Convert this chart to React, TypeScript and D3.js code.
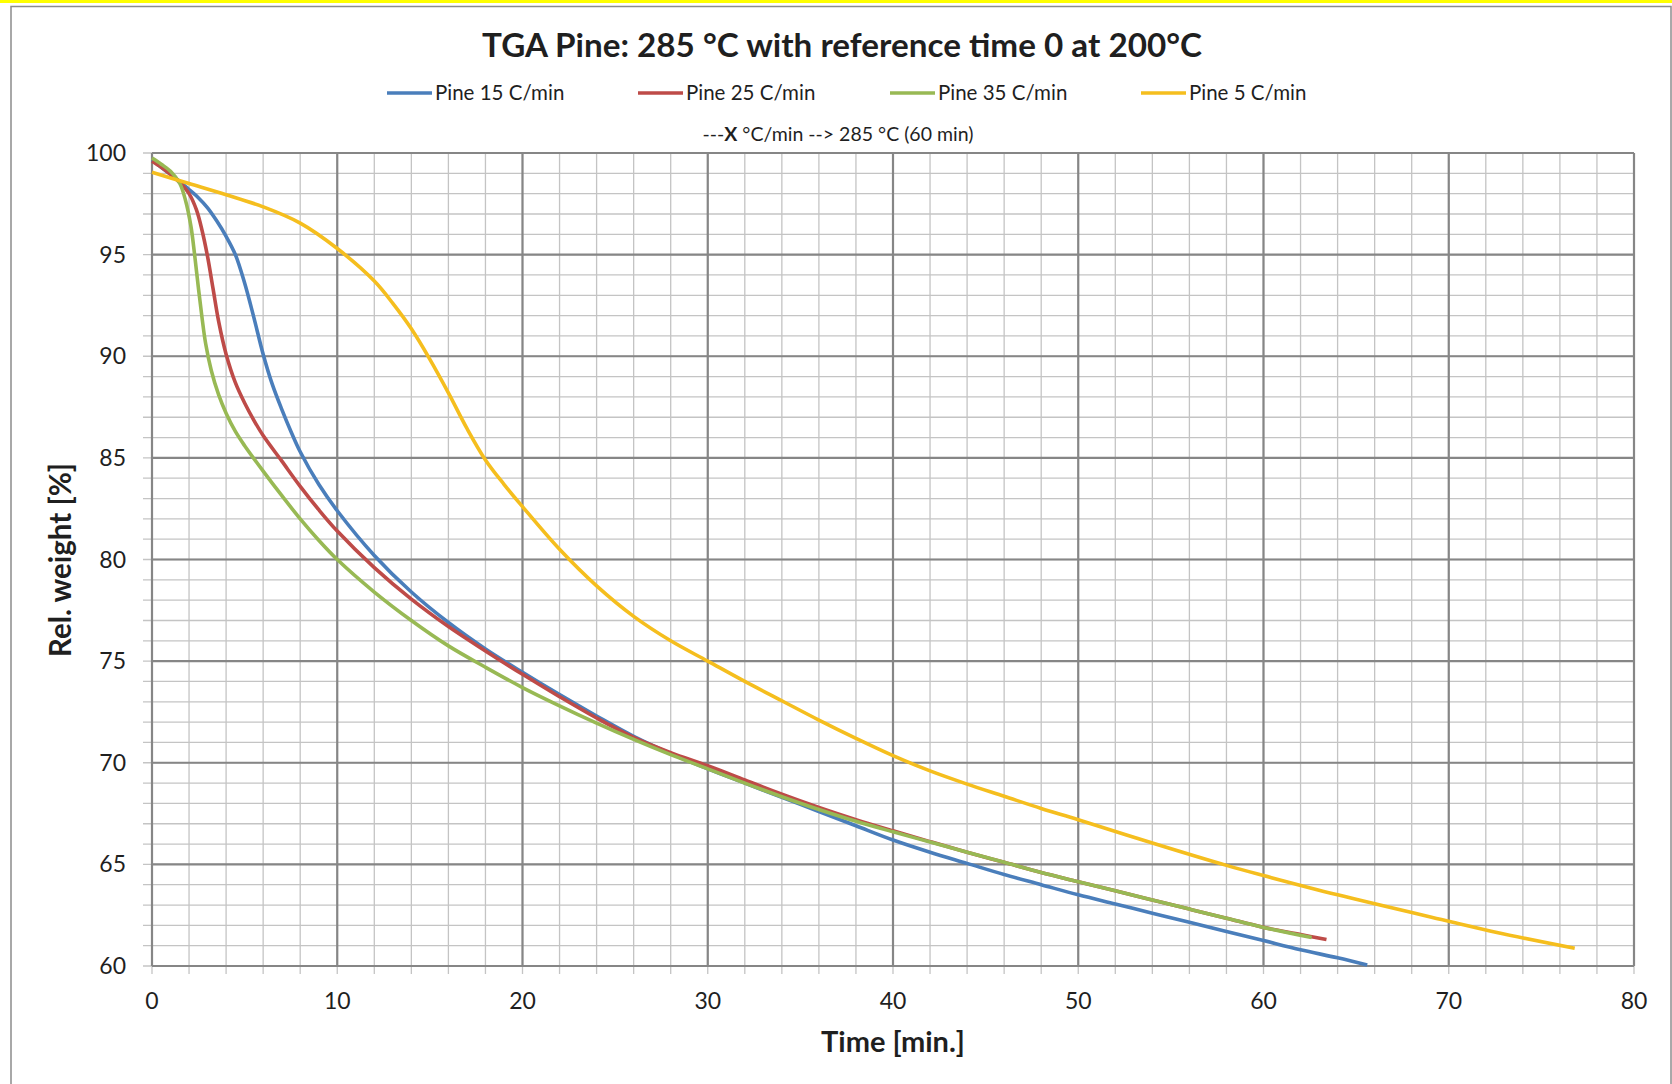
import React from 'react';
import * as d3 from 'd3';

// ── Data (time [min], relative weight [%]) ──────────────────────────────────
const seriesNames = ['Pine 15 C/min', 'Pine 25 C/min', 'Pine 35 C/min', 'Pine 5 C/min'];
const seriesColors = ['#4A7EBB', '#BE4B48', '#98B954', '#F5BE1E'];

const t15 = [0, 0.5, 1, 1.5, 2, 2.5, 3, 3.5, 4, 4.5, 5, 5.5, 6, 6.5, 7, 7.5, 8, 9, 10, 12, 14, 16, 18, 20, 22, 24, 26, 28, 30, 32, 34, 36, 38, 40, 42, 44, 46, 48, 50, 52, 54, 56, 58, 60, 62, 64, 65.6];
const w15 = [99.65, 99.3, 98.95, 98.6, 98.2, 97.8, 97.3, 96.65, 95.9, 95.0, 93.6, 91.9, 90.1, 88.6, 87.4, 86.3, 85.3, 83.7, 82.4, 80.2, 78.4, 76.9, 75.6, 74.45, 73.35, 72.3, 71.3, 70.45, 69.7, 69.0, 68.3, 67.6, 66.9, 66.2, 65.6, 65.05, 64.5, 64.0, 63.5, 63.05, 62.6, 62.15, 61.7, 61.25, 60.8, 60.4, 60.05];

const t25 = [0, 0.5, 1, 1.5, 2, 2.4, 2.7, 3, 3.3, 3.6, 4, 4.5, 5, 5.5, 6, 7, 8, 9, 10, 12, 14, 16, 18, 20, 22, 24, 26, 28, 30, 32, 34, 36, 38, 40, 42, 44, 46, 48, 50, 52, 54, 56, 58, 60, 62, 63.4];
const w25 = [99.6, 99.3, 98.95, 98.55, 98.0, 97.2, 96.2, 94.9, 93.3, 91.7, 90.1, 88.7, 87.7, 86.85, 86.1, 84.85, 83.6, 82.45, 81.4, 79.6, 78.05, 76.7, 75.5, 74.35, 73.25, 72.2, 71.25, 70.5, 69.85, 69.15, 68.45, 67.8, 67.2, 66.65, 66.12, 65.6, 65.1, 64.6, 64.15, 63.7, 63.25, 62.8, 62.35, 61.9, 61.55, 61.3];

const t35 = [0, 0.5, 1, 1.5, 1.8, 2.1, 2.3, 2.5, 2.7, 2.9, 3.2, 3.6, 4, 4.5, 5, 6, 7, 8, 9, 10, 12, 14, 16, 18, 20, 22, 24, 26, 28, 30, 32, 34, 36, 38, 40, 42, 44, 46, 48, 50, 52, 54, 56, 58, 60, 62.6];
const w35 = [99.75, 99.45, 99.1, 98.5, 97.7, 96.4, 95.0, 93.4, 91.9, 90.6, 89.3, 88.1, 87.2, 86.3, 85.6, 84.35, 83.15, 82.0, 80.95, 80.0, 78.4, 77.0, 75.75, 74.7, 73.7, 72.8, 71.95, 71.15, 70.4, 69.7, 69.0, 68.33, 67.7, 67.12, 66.6, 66.1, 65.6, 65.1, 64.6, 64.15, 63.7, 63.25, 62.8, 62.35, 61.9, 61.4];

const t5 = [0, 2, 4, 6, 8, 10, 12, 13, 14, 15, 16, 17, 18, 19, 20, 22, 24, 26, 28, 30, 32, 34, 36, 38, 40, 42, 44, 46, 48, 50, 54, 58, 60, 64, 70, 72.6, 76.8];
const w5 = [99.05, 98.5, 97.95, 97.35, 96.55, 95.3, 93.7, 92.6, 91.35, 89.85, 88.2, 86.45, 84.9, 83.7, 82.6, 80.5, 78.7, 77.2, 76.0, 75.0, 74.0, 73.05, 72.1, 71.2, 70.35, 69.6, 68.95, 68.35, 67.75, 67.2, 66.05, 64.95, 64.45, 63.5, 62.2, 61.65, 60.87];

const seriesTimes = [t15, t25, t35, t5];
const seriesWeights = [w15, w25, w35, w5];

const xTickValues = [0, 10, 20, 30, 40, 50, 60, 70, 80];
const yTickValues = [60, 65, 70, 75, 80, 85, 90, 95, 100];

// ── Layout ────────────────────────────────────────────────────────────────────
const W = 1672;
const H = 1084;
const PLOT = { left: 152, right: 1634, top: 153, bottom: 966 };
const FONT = "Lato, 'Open Sans', sans-serif";
const TEXT = '#1f1f1f';

export default function App() {
  const x = d3.scaleLinear().domain([0, 80]).range([PLOT.left, PLOT.right]);
  const y = d3.scaleLinear().domain([60, 100]).range([PLOT.bottom, PLOT.top]);

  const line = d3
    .line<[number, number]>()
    .x((d) => x(d[0]))
    .y((d) => y(d[1]))
    .curve(d3.curveCatmullRom.alpha(0.5));

  const minorX = d3.range(0, 81, 2);
  const minorY = d3.range(60, 101, 1);

  // legend items: line start x
  const legendX = [387, 638, 890, 1141];

  return (
    <svg
      width={W}
      height={H}
      style={{ position: 'absolute', left: 0, top: 0, background: '#fff' }}
      fontFamily={FONT}
    >
      {/* outer chart frame */}
      <rect x={0} y={0} width={W} height={3} fill="#FFFF00" />
      <rect x={11} y={6.5} width={W - 12} height={H} fill="#fff" stroke="#8c8c8c" strokeWidth={1.5} />

      {/* title */}
      <text
        x={842}
        y={57}
        textAnchor="middle"
        fontSize={32}
        fontWeight={700}
        fill={TEXT}
        textLength={720}
        lengthAdjust="spacingAndGlyphs"
      >
        TGA Pine: 285 °C with reference time 0 at 200°C
      </text>

      {/* legend */}
      {seriesNames.map((name, i) => (
        <g key={name}>
          <line x1={legendX[i]} x2={legendX[i] + 45} y1={93} y2={93} stroke={seriesColors[i]} strokeWidth={3.5} />
          <text x={legendX[i] + 48} y={93} dy="0.35em" fontSize={20.5} fill={TEXT}>
            {name}
          </text>
        </g>
      ))}

      {/* subtitle */}
      <text x={838} y={134} dy="0.35em" textAnchor="middle" fontSize={19.5} fill={TEXT}>
        ---<tspan fontWeight={700}>X</tspan> °C/min --&gt; 285 °C (60 min)
      </text>

      {/* minor grid */}
      {minorX.map((v) => (
        <line key={'mx' + v} x1={x(v)} x2={x(v)} y1={PLOT.top} y2={PLOT.bottom + 8} stroke="#c4c4c4" strokeWidth={1.3} />
      ))}
      {minorY.map((v) => (
        <line key={'my' + v} x1={PLOT.left - 9} x2={PLOT.right} y1={y(v)} y2={y(v)} stroke="#c4c4c4" strokeWidth={1.3} />
      ))}
      {/* major grid */}
      {xTickValues.map((v) => (
        <line key={'Mx' + v} x1={x(v)} x2={x(v)} y1={PLOT.top} y2={PLOT.bottom} stroke="#868686" strokeWidth={2.2} />
      ))}
      {yTickValues.map((v) => (
        <line key={'My' + v} x1={PLOT.left} x2={PLOT.right} y1={y(v)} y2={y(v)} stroke="#868686" strokeWidth={2.2} />
      ))}

      {/* series */}
      {seriesTimes.map((ts, i) => (
        <path
          key={seriesNames[i]}
          d={line(ts.map((t, j) => [t, seriesWeights[i][j]] as [number, number])) ?? ''}
          fill="none"
          stroke={seriesColors[i]}
          strokeWidth={3.6}
          strokeLinejoin="round"
        />
      ))}

      {/* tick labels */}
      {yTickValues.map((v) => (
        <text key={'yl' + v} x={126} y={y(v)} dy="0.35em" textAnchor="end" fontSize={23} fill={TEXT}>
          {v}
        </text>
      ))}
      {xTickValues.map((v) => (
        <text key={'xl' + v} x={x(v)} y={1001} dy="0.35em" textAnchor="middle" fontSize={23} fill={TEXT}>
          {v}
        </text>
      ))}

      {/* axis titles */}
      <text x={893} y={1042} dy="0.35em" textAnchor="middle" fontSize={29} fontWeight={700} fill={TEXT}>
        Time [min.]
      </text>
      <text
        transform={`translate(61,560) rotate(-90)`}
        dy="0.35em"
        textAnchor="middle"
        fontSize={29.5}
        fontWeight={700}
        fill={TEXT}
      >
        Rel. weight [%]
      </text>
    </svg>
  );
}
